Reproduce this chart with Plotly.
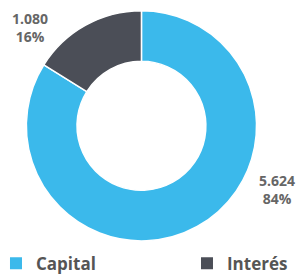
import plotly.graph_objects as go

labels = ["Capital", "Interés"]
values = [5624, 1080]
text_values = ["5.624", "1.080"]
percents = ["84%", "16%"]
colors = ["#3BB9EB", "#4B4E57"]
# label block centres in pixels (x from left, y from top)
label_pos = [(277, 189), (30, 27.5)]

W, H = 297, 275

fig = go.Figure()
fig.add_trace(go.Pie(
    labels=labels,
    values=values,
    textinfo="none",
    hole=0.56,
    sort=False,
    direction="clockwise",
    rotation=0,
    marker=dict(colors=colors, line=dict(color="white", width=1.5)),
    domain=dict(x=[0.0875, 0.865], y=[0.124, 0.961]),
    showlegend=False,
    hoverinfo="label+value+percent",
))

# legend entries (one per category)
legend_widths = [146, 60]
for lab, col, lw in zip(labels, colors, legend_widths):
    fig.add_trace(go.Scatter(
        x=[None], y=[None], mode="markers", name=lab,
        marker=dict(symbol="square", size=7, color=col),
        legendwidth=lw, showlegend=True, hoverinfo="skip",
    ))

label_font = dict(family="Open Sans", size=14, color="#666666", weight="bold")
for tv, pc, (px, py) in zip(text_values, percents, label_pos):
    fig.add_annotation(
        x=px / W, y=1 - py / H, xref="paper", yref="paper",
        xanchor="center", yanchor="middle", align="center",
        text=f"{tv}<br>{pc}", showarrow=False, font=label_font,
    )

fig.update_layout(
    width=W, height=H,
    margin=dict(l=0, r=0, t=0, b=0, autoexpand=False),
    paper_bgcolor="white",
    plot_bgcolor="white",
    xaxis=dict(visible=False),
    yaxis=dict(visible=False),
    legend=dict(
        orientation="h",
        x=-0.0135, y=-0.024, xanchor="left", yanchor="bottom",
        font=dict(family="Open Sans", size=17, color="#555555", weight="bold"),
        itemsizing="constant",
        bgcolor="rgba(0,0,0,0)",
    ),
)

fig.write_html("out.html", config={"displayModeBar": False},
               post_script="document.body.style.margin='0';")
